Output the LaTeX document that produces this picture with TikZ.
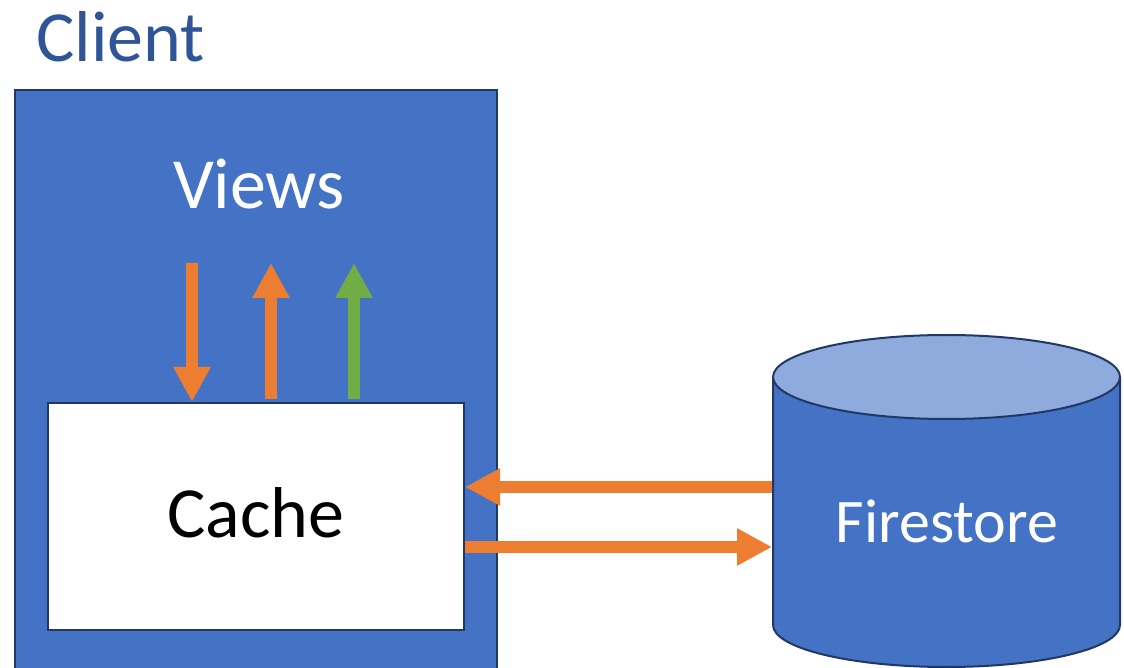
\documentclass[tikz,border=0pt]{standalone}
\usepackage{fontspec}
\setmainfont{Carlito}
\usetikzlibrary{arrows.meta}

\definecolor{boxblue}{HTML}{4472C4}
\definecolor{edgeblue}{HTML}{203864}
\definecolor{topblue}{HTML}{8FAADC}
\definecolor{titleblue}{HTML}{2F5597}
\definecolor{flowor}{HTML}{ED7D31}
\definecolor{flowgr}{HTML}{70AD47}

\tikzset{
  flow/.style={line width=12pt,flowor,-{Triangle[width=35pt,length=35pt]}},
  big/.style={font=\fontsize{72}{80}\selectfont}
}

\begin{document}
\begin{tikzpicture}[x=1pt,y=1pt]
  \useasboundingbox (0,0) rectangle (1124,667);
  \node[draw=edgeblue,fill=boxblue,line width=2pt,minimum width=482pt,minimum height=590pt,inner sep=0pt] (client) at (256,578) [anchor=north] {};
  \node[big,text=titleblue,anchor=base west,inner sep=0pt] (title) at (36,605) {Client};
  \node[big,text=white] (views) at (259,483) {Views};
  \node[draw=edgeblue,fill=white,line width=2pt,minimum width=416pt,minimum height=227pt,inner sep=0pt,big] (cache) at (256,150.5) {};
  \node[big] (cachetxt) at (256,154) {Cache};
  \coordinate (d1) at (192,404);
  \coordinate (u1) at (271,268);
  \coordinate (u2) at (354,268);
  \draw[flow] (d1) -- (d1 |- cache.north);
  \draw[flow] (u1) -- (u1 |- 0,404);
  \draw[flow,flowgr] (u2) -- (u2 |- 0,404);
  % Firestore drum
  \fill[boxblue] (773,290) -- (773,42) arc[start angle=180,end angle=360,x radius=173.5,y radius=42] -- (1120,290) -- cycle;
  \draw[edgeblue,line width=2pt] (773,290) -- (773,42) arc[start angle=180,end angle=360,x radius=173.5,y radius=42] -- (1120,290);
  \draw[edgeblue,line width=2pt,fill=topblue] (946.5,290) ellipse[x radius=173.5,y radius=42];
  \node[text=white,font=\fontsize{62}{70}\selectfont] (fs) at (947,146) {Firestore};
  \coordinate (fsw) at (772,146);
  \draw[flow] (fsw |- 0,180) -- (cache.east |- 0,180);
  \draw[flow] (cache.east |- 0,120) -- (fsw |- 0,120);
\end{tikzpicture}
\end{document}
